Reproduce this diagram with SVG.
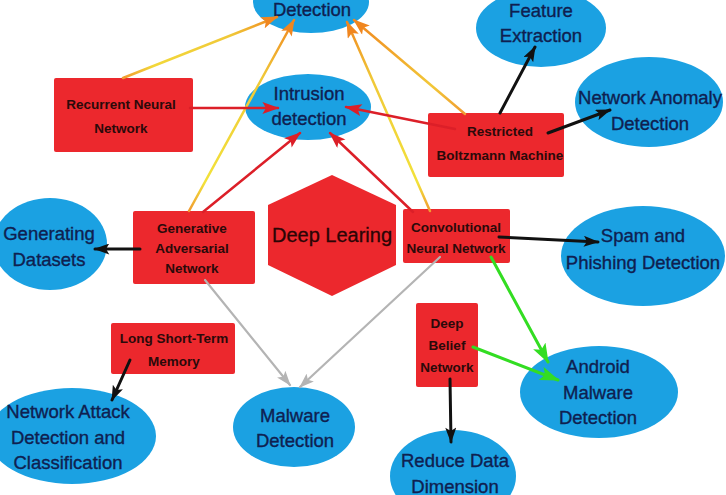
<svg xmlns="http://www.w3.org/2000/svg" width="726" height="495" viewBox="0 0 726 495">
<style>
.ell{fill:#1ba1e2;}
.box{fill:#ec282d;}
.et{font-family:"Liberation Sans",Arial,sans-serif;font-size:18.5px;fill:#0f2050;stroke:#0f2050;stroke-width:0.35;text-anchor:middle;}
.bt{font-family:"Liberation Sans",Arial,sans-serif;font-size:13.5px;font-weight:bold;fill:#2b0a0a;text-anchor:middle;}
.ht{font-family:"Liberation Sans",Arial,sans-serif;font-size:20px;fill:#2b0505;stroke:#2b0505;stroke-width:0.3;text-anchor:middle;}
.c{fill:none;stroke-linecap:round;}
.k{stroke:#111;stroke-width:3;marker-end:url(#ah-k);}
.r{stroke:#dc1f28;stroke-width:2.5;marker-end:url(#ah-r);}
.g{stroke:#33dd22;stroke-width:3;marker-end:url(#ah-g);}
.gy{stroke:#b4b4b4;stroke-width:2.2;marker-end:url(#ah-gy);}
.o{stroke-width:2.5;marker-end:url(#ah-o);}
</style>
<defs>
<marker id="ah-k" viewBox="0 0 14 10" refX="13" refY="5" markerWidth="18" markerHeight="11" markerUnits="userSpaceOnUse" orient="auto"><path d="M0,0 L14,5 L0,10 L3,5 z" fill="#111"/></marker>
<marker id="ah-r" viewBox="0 0 14 10" refX="13" refY="5" markerWidth="21" markerHeight="12" markerUnits="userSpaceOnUse" orient="auto"><path d="M0,0 L14,5 L0,10 L3,5 z" fill="#dc1f28"/></marker>
<marker id="ah-g" viewBox="0 0 14 10" refX="13" refY="5" markerWidth="20" markerHeight="14" markerUnits="userSpaceOnUse" orient="auto"><path d="M0,0 L14,5 L0,10 L3,5 z" fill="#33dd22"/></marker>
<marker id="ah-gy" viewBox="0 0 14 10" refX="13" refY="5" markerWidth="15" markerHeight="11" markerUnits="userSpaceOnUse" orient="auto"><path d="M0,0 L14,5 L0,10 L3,5 z" fill="#b4b4b4"/></marker>
<marker id="ah-o" viewBox="0 0 14 10" refX="13" refY="5" markerWidth="18" markerHeight="12" markerUnits="userSpaceOnUse" orient="auto"><path d="M0,0 L14,5 L0,10 L3,5 z" fill="#f0861f"/></marker>
<linearGradient id="go1" gradientUnits="userSpaceOnUse" x1="123" y1="78" x2="277" y2="17"><stop offset="0" stop-color="#f09a30"/><stop offset="0.2" stop-color="#f2d83a"/><stop offset="0.7" stop-color="#f0c838"/><stop offset="1" stop-color="#f0861f"/></linearGradient>
<linearGradient id="go2" gradientUnits="userSpaceOnUse" x1="189" y1="211" x2="294" y2="20"><stop offset="0" stop-color="#f09a30"/><stop offset="0.15" stop-color="#f2e23a"/><stop offset="0.7" stop-color="#f0c838"/><stop offset="1" stop-color="#f0861f"/></linearGradient>
<linearGradient id="go3" gradientUnits="userSpaceOnUse" x1="430" y1="211" x2="347" y2="22"><stop offset="0" stop-color="#f09a30"/><stop offset="0.15" stop-color="#f2e23a"/><stop offset="0.7" stop-color="#f0c838"/><stop offset="1" stop-color="#f0861f"/></linearGradient>
<linearGradient id="go4" gradientUnits="userSpaceOnUse" x1="465" y1="114" x2="354" y2="20"><stop offset="0" stop-color="#f09a30"/><stop offset="0.3" stop-color="#f2c838"/><stop offset="1" stop-color="#f0861f"/></linearGradient>
</defs>

<g id="nodes">
<g id="detection-top"><ellipse class="ell" cx="311" cy="2" rx="58" ry="31"/><text class="et" x="312" y="16">Detection</text></g>
<g id="intrusion"><ellipse class="ell" cx="308" cy="107" rx="63" ry="33"/><text class="et" x="309" y="100">Intrusion</text><text class="et" x="309" y="124.5">detection</text></g>
<g id="feature"><ellipse class="ell" cx="541" cy="28" rx="65" ry="39"/><text class="et" x="541" y="16.5">Feature</text><text class="et" x="541" y="41.5">Extraction</text></g>
<g id="anomaly"><ellipse class="ell" cx="649" cy="102" rx="74" ry="45"/><text class="et" x="650" y="103.5">Network Anomaly</text><text class="et" x="650" y="129.5">Detection</text></g>
<g id="gendata"><ellipse class="ell" cx="50" cy="244" rx="57" ry="46"/><text class="et" x="49" y="239.5">Generating</text><text class="et" x="49" y="265.5">Datasets</text></g>
<g id="spam"><ellipse class="ell" cx="643" cy="256" rx="82" ry="50"/><text class="et" x="643" y="241.5">Spam and</text><text class="et" x="643" y="268.5">Phishing Detection</text></g>
<g id="netattack"><ellipse class="ell" cx="72" cy="436" rx="84" ry="48"/><text class="et" x="68" y="417.5">Network Attack</text><text class="et" x="68" y="443.5">Detection and</text><text class="et" x="68" y="468.5">Classification</text></g>
<g id="malware"><ellipse class="ell" cx="294" cy="427" rx="61" ry="40"/><text class="et" x="295" y="421.5">Malware</text><text class="et" x="295" y="446.5">Detection</text></g>
<g id="android"><ellipse class="ell" cx="599" cy="392" rx="79" ry="46"/><text class="et" x="598" y="372.5">Android</text><text class="et" x="598" y="398.5">Malware</text><text class="et" x="598" y="423.5">Detection</text></g>
<g id="reduce"><ellipse class="ell" cx="453" cy="476" rx="63" ry="46"/><text class="et" x="455" y="466.5">Reduce Data</text><text class="et" x="455" y="493">Dimension</text></g>

<g id="rnn"><rect class="box" x="54" y="78" width="139" height="74" rx="2"/><text class="bt" x="121" y="109">Recurrent Neural</text><text class="bt" x="121" y="133">Network</text></g>
<g id="rbm"><rect class="box" x="428" y="113" width="136" height="64" rx="2"/><text class="bt" x="500" y="136">Restricted</text><text class="bt" x="500" y="160">Boltzmann Machine</text></g>
<g id="gan"><rect class="box" x="133" y="211" width="122" height="73" rx="2"/><text class="bt" x="192" y="233">Generative</text><text class="bt" x="192" y="253">Adversarial</text><text class="bt" x="192" y="273">Network</text></g>
<g id="cnn"><rect class="box" x="403" y="209" width="107" height="54" rx="2"/><text class="bt" x="456" y="232">Convolutional</text><text class="bt" x="456" y="253">Neural Network</text></g>
<g id="lstm"><rect class="box" x="111" y="323" width="124" height="51" rx="2"/><text class="bt" x="174" y="343">Long Short-Term</text><text class="bt" x="174" y="366">Memory</text></g>
<g id="dbn"><rect class="box" x="416" y="303" width="62" height="84" rx="2"/><text class="bt" x="447" y="328">Deep</text><text class="bt" x="447" y="350">Belief</text><text class="bt" x="447" y="372">Network</text></g>
<g id="deep-learning"><polygon class="box" points="332,175 396,205 396,265 332,296 268,265 268,205"/><text class="ht" x="332" y="242">Deep Learing</text></g>
</g>

<g id="connectors">
<path class="c o" stroke="url(#go1)" d="M123,78 L277,17"/>
<path class="c o" stroke="url(#go2)" d="M189,211 L294,20"/>
<path class="c o" stroke="url(#go3)" d="M430,211 L347,22"/>
<path class="c o" stroke="url(#go4)" d="M465,114 L354,20"/>
<path class="c r" d="M190,108 L278,108"/>
<path class="c r" d="M455,129 L346,107"/>
<path class="c r" d="M203,212 L300,133"/>
<path class="c r" d="M413,212 L330,133"/>
<path class="c k" d="M500,113 L535,47"/>
<path class="c k" d="M548,133 L610,110"/>
<path class="c k" d="M140,249 L95,249"/>
<path class="c k" d="M499,237 L598,242"/>
<path class="c k" d="M130,360 L112,400"/>
<path class="c k" d="M450,379 L451,442"/>
<path class="c g" d="M491,257 L548,362"/>
<path class="c g" d="M473,347 L558,380"/>
<path class="c gy" d="M205,280 L290,385"/>
<path class="c gy" d="M440,257 L300,387"/>
</g>
</svg>
